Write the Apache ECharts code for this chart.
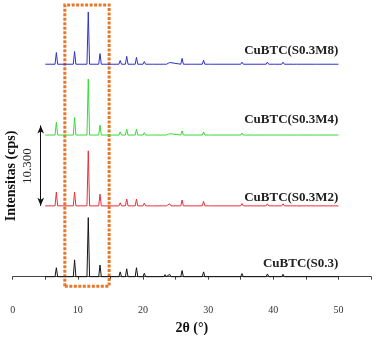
<!DOCTYPE html>
<html>
<head>
<meta charset="utf-8">
<script src="https://cdn.jsdelivr.net/npm/echarts@6/dist/echarts.min.js"></script>
<style>
  html, body { margin: 0; padding: 0; background: #fff; }
  #chart { width: 377px; height: 340px; }
</style>
</head>
<body>
<div id="chart"></div>
<script>
// peak positions (2theta, degrees)
const peakPos = [6.7, 9.5, 11.6, 13.4, 14.7, 16.5, 17.5, 19.0, 20.2, 21.3, 23.4, 24.1, 26.0, 27.6, 29.3, 30.4, 35.2, 39.1, 40.0, 41.5, 43.4, 46.7];

// peak heights above baseline (cps), one array per sample
const hS03   = [1300, 2450, 8600, 1700, 150, 700, 1150, 1300, 500, 250, 300, 350, 900, 150, 700, 200, 450, 400, 150, 350, 200, 150];
const hS03M2 = [2000, 2000, 8000, 1700, 100, 450, 1000, 1000, 400, 200, 250, 300, 850, 100, 650, 150, 350, 300, 100, 300, 150, 100];
const hS03M4 = [1850, 2550, 8150, 1450, 100, 450, 850, 850, 350, 150, 200, 200, 600, 100, 450, 100, 300, 250, 100, 250, 150, 100];
const hS03M8 = [1700, 1850, 7600, 1550, 100, 550, 1150, 1000, 400, 200, 200, 250, 850, 100, 600, 150, 300, 300, 100, 300, 150, 100];

const names   = ["CuBTC(S0.3)", "CuBTC(S0.3M2)", "CuBTC(S0.3M4)", "CuBTC(S0.3M8)"];
const heights = [hS03, hS03M2, hS03M4, hS03M8];
const offsets = [0, 10300, 20600, 30900];
const labelLift = [1960, 1230, 2220, 1930];
const colors  = ["#151515", "#e8303a", "#36dc36", "#3030cc"];

const xTicks = [0, 10, 20, 30, 40, 50];
const xStart = 5, xEnd = 50, halfWidth = 0.2;

function buildPattern(heightList, off) {
    var pts = [[xStart, off]];
    for (var i = 0; i < peakPos.length; i++) {
        pts.push([peakPos[i] - halfWidth, off]);
        pts.push([peakPos[i], off + heightList[i]]);
        pts.push([peakPos[i] + halfWidth, off]);
    }
    pts.push([xEnd, off]);
    return pts;
}

const serif = "'Liberation Serif', 'DejaVu Serif', serif";

var series = [];
for (var s = 0; s < names.length; s++) {
    series.push({
        name: names[s],
        type: "line",
        data: buildPattern(heights[s], offsets[s]),
        showSymbol: false,
        lineStyle: { color: colors[s], width: 1 },
        silent: true,
        markPoint: {
            symbol: "circle",
            symbolSize: 0,
            data: [{ coord: [xEnd, offsets[s] + labelLift[s]] }],
            label: {
                show: true,
                position: [0, 0],
                align: "right",
                verticalAlign: "middle",
                formatter: names[s],
                fontFamily: serif,
                fontWeight: "bold",
                fontSize: 13,
                color: "#222"
            }
        }
    });
}

// dotted box around main peaks
series[0].markArea = {
    silent: true,
    itemStyle: {
        color: "rgba(0,0,0,0)",
        borderColor: "#e9772a",
        borderWidth: 3,
        borderType: [3, 1.5]
    },
    data: [[{ coord: [8.0, -1380] }, { coord: [14.8, 39520] }]]
};

// double arrow showing the offset between patterns
series[1].markLine = {
    silent: true,
    symbol: ["arrow", "arrow"],
    symbolSize: [5, 8],
    lineStyle: { color: "#111", width: 1, type: "solid" },
    label: { show: false },
    data: [[{ coord: [4.3, offsets[1]] }, { coord: [4.3, offsets[2] + 1400] }]]
};

var chart = echarts.init(document.getElementById("chart"), null, { renderer: "canvas" });

chart.setOption({
    animation: false,
    grid: { left: 12.7, right: 6, top: 0, bottom: 38 },
    xAxis: {
        type: "value",
        min: 0,
        max: 55,
        interval: 5,
        name: "2θ (°)",
        nameLocation: "middle",
        nameGap: 23,
        nameTextStyle: { fontFamily: serif, fontWeight: "bold", fontSize: 14, color: "#111" },
        axisLine: { lineStyle: { color: "#444", width: 1 } },
        axisTick: { length: 3, lineStyle: { color: "#444" } },
        splitLine: { show: false },
        axisLabel: {
            margin: 7,
            fontFamily: serif,
            fontSize: 10,
            color: "#333",
            formatter: function (v) { return xTicks.indexOf(v) >= 0 ? String(v) : ""; }
        }
    },
    yAxis: {
        type: "value",
        min: -3100,
        max: 40240,
        axisLine: { show: false },
        axisTick: { show: false },
        axisLabel: { show: false },
        splitLine: { show: false }
    },
    graphic: [
        {
            type: "text",
            x: 11,
            y: 176,
            rotation: Math.PI / 2,
            style: {
                text: "Intensitas (cps)",
                font: "bold 14px " + serif,
                fill: "#111",
                align: "center",
                verticalAlign: "middle"
            }
        },
        {
            type: "text",
            x: 28,
            y: 166,
            rotation: Math.PI / 2,
            style: {
                text: "10.300",
                font: "13px " + serif,
                fill: "#222",
                align: "center",
                verticalAlign: "middle"
            }
        }
    ],
    series: series
});
</script>
</body>
</html>
